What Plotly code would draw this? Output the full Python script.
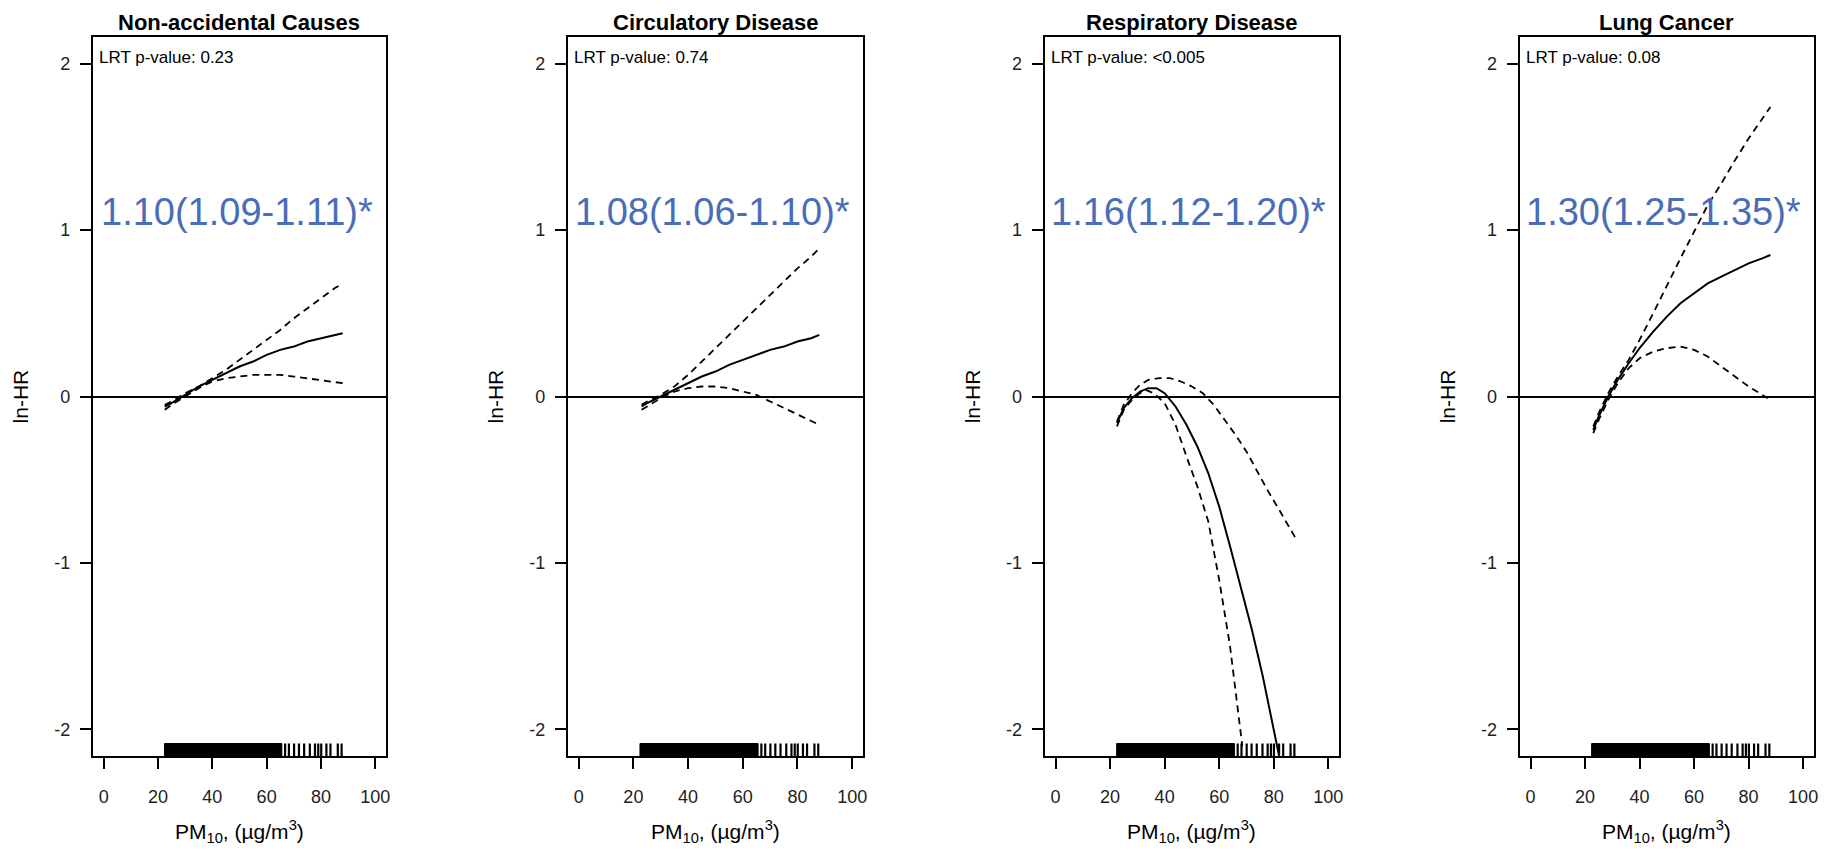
import plotly.graph_objects as go

W, H = 1830, 854

titles = ["Non-accidental Causes", "Circulatory Disease", "Respiratory Disease", "Lung Cancer"]
lrt_labels = ["LRT p-value: 0.23", "LRT p-value: 0.74", "LRT p-value: <0.005", "LRT p-value: 0.08"]
hr_labels = ["1.10(1.09-1.11)*", "1.08(1.06-1.10)*", "1.16(1.12-1.20)*", "1.30(1.25-1.35)*"]

x_ticks = [0, 20, 40, 60, 80, 100]
y_ticks = [-2, -1, 0, 1, 2]

# Panel 1: Non-accidental
x1 = [22.5, 25, 30, 35, 40, 45, 50, 55, 60, 65, 70, 75, 80, 85, 88]
fit1 = [-0.06, -0.04, 0.01, 0.06, 0.10, 0.14, 0.18, 0.21, 0.25, 0.28, 0.30, 0.33, 0.35, 0.37, 0.38]
up1 = [-0.05, -0.03, 0.02, 0.06, 0.11, 0.16, 0.22, 0.28, 0.34, 0.40, 0.47, 0.53, 0.59, 0.65, 0.68]
lo1 = [-0.08, -0.05, 0.00, 0.05, 0.09, 0.11, 0.12, 0.13, 0.13, 0.13, 0.12, 0.11, 0.10, 0.09, 0.08]

# Panel 2: Circulatory
x2 = [23, 25, 30, 35, 40, 45, 50, 55, 60, 65, 70, 75, 80, 85, 88]
fit2 = [-0.06, -0.04, 0.00, 0.04, 0.08, 0.12, 0.15, 0.19, 0.22, 0.25, 0.28, 0.30, 0.33, 0.35, 0.37]
up2 = [-0.05, -0.03, 0.01, 0.06, 0.13, 0.21, 0.29, 0.37, 0.45, 0.53, 0.61, 0.69, 0.77, 0.84, 0.89]
lo2 = [-0.08, -0.06, -0.01, 0.03, 0.05, 0.06, 0.06, 0.05, 0.03, 0.01, -0.03, -0.07, -0.11, -0.15, -0.17]

# Panel 3: Respiratory
x3_fit = [22.5, 25, 28, 31, 34, 37, 40, 44, 48, 52, 56, 60, 64, 68, 72, 76, 80, 82]
fit3 = [-0.16, -0.07, -0.01, 0.03, 0.05, 0.05, 0.02, -0.06, -0.17, -0.30, -0.46, -0.66, -0.90, -1.15, -1.40, -1.68, -1.99, -2.16]
x3_up = [22.5, 25, 28, 31, 34, 38, 42, 46, 50, 54, 58, 62, 66, 70, 74, 78, 82, 86, 88]
up3 = [-0.15, -0.05, 0.02, 0.07, 0.10, 0.11, 0.11, 0.09, 0.06, 0.02, -0.05, -0.14, -0.23, -0.33, -0.45, -0.57, -0.68, -0.79, -0.85]
x3_lo = [22.5, 25, 28, 31, 33, 36, 40, 44, 48, 52, 56, 60, 64, 68, 68.5]
lo3 = [-0.18, -0.08, -0.02, 0.02, 0.04, 0.02, -0.04, -0.17, -0.36, -0.54, -0.75, -1.10, -1.50, -2.04, -2.10]

# Panel 4: Lung cancer
x4 = [23, 25, 28.5, 32, 36, 40, 45, 50, 55, 60, 65, 70, 75, 80, 85, 88]
fit4 = [-0.20, -0.12, 0.00, 0.10, 0.20, 0.29, 0.39, 0.48, 0.56, 0.62, 0.68, 0.72, 0.76, 0.80, 0.83, 0.85]
up4 = [-0.18, -0.10, 0.02, 0.12, 0.22, 0.34, 0.50, 0.67, 0.83, 0.99, 1.15, 1.28, 1.42, 1.55, 1.67, 1.74]
x4_lo = [23, 25, 28.5, 32, 36, 40, 45, 50, 55, 60, 65, 70, 75, 80, 85, 87]
lo4 = [-0.22, -0.14, -0.02, 0.08, 0.17, 0.23, 0.27, 0.29, 0.30, 0.28, 0.24, 0.18, 0.12, 0.06, 0.01, -0.01]

# Rug: dense range of exposures and sparse high values
rug_dense = [22.4, 65.6]
rug_sparse = [66.8, 68.2, 70.1, 71.9, 73.8, 75.9, 77.8, 79.0, 80.1, 82.0, 83.5, 86.2, 87.6]

panels = [
    (x1, fit1, x1, up1, x1, lo1),
    (x2, fit2, x2, up2, x2, lo2),
    (x3_fit, fit3, x3_up, up3, x3_lo, lo3),
    (x4, fit4, x4, up4, x4_lo, lo4),
]

# layout geometry (pixels)
lefts = [93, 569, 1047, 1523]
rights = [387, 865, 1342, 1818]
top_px, bot_px = 37, 756
YR = [-2.16, 2.16]
XR = [-4, 104]
rug_top = -2.085

NARROW = "Liberation Sans Narrow, Arial Narrow, Liberation Sans, Arial, sans-serif"
REG = "Liberation Sans, Arial, sans-serif"

fig = go.Figure()
layout = {}
annotations = []

for i, (xf, yf, xu, yu, xl, yl) in enumerate(panels):
    n = "" if i == 0 else str(i + 1)
    xa, ya = "x" + n, "y" + n
    line_solid = dict(color="black", width=2)
    line_dash = dict(color="black", width=1.8, dash="7px,5px")
    fig.add_trace(go.Scatter(x=xu, y=yu, mode="lines", line=line_dash, xaxis=xa, yaxis=ya, showlegend=False))
    fig.add_trace(go.Scatter(x=xl, y=yl, mode="lines", line=line_dash, xaxis=xa, yaxis=ya, showlegend=False))
    fig.add_trace(go.Scatter(x=xf, y=yf, mode="lines", line=line_solid, xaxis=xa, yaxis=ya, showlegend=False))
    # rug dense block
    fig.add_trace(go.Scatter(
        x=[rug_dense[0], rug_dense[1], rug_dense[1], rug_dense[0], rug_dense[0]],
        y=[YR[0], YR[0], rug_top, rug_top, YR[0]],
        mode="lines", fill="toself", fillcolor="black", line=dict(color="black", width=1),
        xaxis=xa, yaxis=ya, showlegend=False))
    # rug sparse ticks
    rx, ry = [], []
    for v in rug_sparse:
        rx += [v, v, None]
        ry += [YR[0], rug_top, None]
    fig.add_trace(go.Scatter(x=rx, y=ry, mode="lines", line=dict(color="black", width=2.2),
                             xaxis=xa, yaxis=ya, showlegend=False))

    dom_x = [lefts[i] / W, rights[i] / W]
    dom_y = [1 - bot_px / H, 1 - top_px / H]
    layout["xaxis" + n] = dict(
        domain=dom_x, range=XR, anchor=ya, tickmode="array", tickvals=x_ticks,
        ticktext=[str(v) for v in x_ticks], ticks="outside", ticklen=11, tickwidth=1.5,
        tickcolor="black", showline=True, linecolor="black", linewidth=2, mirror=True,
        showgrid=False, zeroline=False, ticklabelstandoff=12,
        tickfont=dict(family=NARROW, size=18, color="#222"), fixedrange=True)
    layout["yaxis" + n] = dict(
        domain=dom_y, range=YR, anchor=xa, tickmode="array", tickvals=y_ticks,
        ticktext=[str(v) for v in y_ticks], ticks="outside", ticklen=11, tickwidth=1.5,
        tickcolor="black", showline=True, linecolor="black", linewidth=2, mirror=True,
        showgrid=False, zeroline=True, zerolinecolor="black", zerolinewidth=2,
        ticklabelstandoff=6,
        tickfont=dict(family=NARROW, size=18, color="#222"), fixedrange=True)

    cx = (lefts[i] + rights[i]) / 2 / W
    annotations.append(dict(text="<b>" + titles[i] + "</b>", x=cx, y=1 - 22 / H, xref="paper", yref="paper",
                            showarrow=False, xanchor="center", yanchor="middle",
                            font=dict(family=NARROW, size=22, color="black")))
    annotations.append(dict(text=lrt_labels[i], x=0.015, y=1 - 20 / (bot_px - top_px),
                            xref=xa + " domain", yref=ya + " domain",
                            showarrow=False, xanchor="left", yanchor="middle",
                            font=dict(family=NARROW, size=17, color="black")))
    annotations.append(dict(text=hr_labels[i], x=0.49, y=1.11, xref=xa + " domain", yref=ya,
                            showarrow=False, xanchor="center", yanchor="middle",
                            font=dict(family=REG, size=38, color="#4A6DB8")))
    annotations.append(dict(text="ln-HR", x=(lefts[i] - 72) / W, y=(1 - (bot_px + top_px) / 2 / H),
                            xref="paper", yref="paper", textangle=-90,
                            showarrow=False, xanchor="center", yanchor="middle",
                            font=dict(family=REG, size=21, color="black")))
    annotations.append(dict(text="PM<sub>10</sub>, (µg/m<sup>3</sup>)", x=cx, y=1 - 831 / H,
                            xref="paper", yref="paper",
                            showarrow=False, xanchor="center", yanchor="middle",
                            font=dict(family=REG, size=21, color="black")))

fig.update_layout(
    width=W, height=H, margin=dict(l=0, r=0, t=0, b=0),
    paper_bgcolor="white", plot_bgcolor="white",
    annotations=annotations, **layout)

fig.write_html("out.html", config={"displayModeBar": False})
